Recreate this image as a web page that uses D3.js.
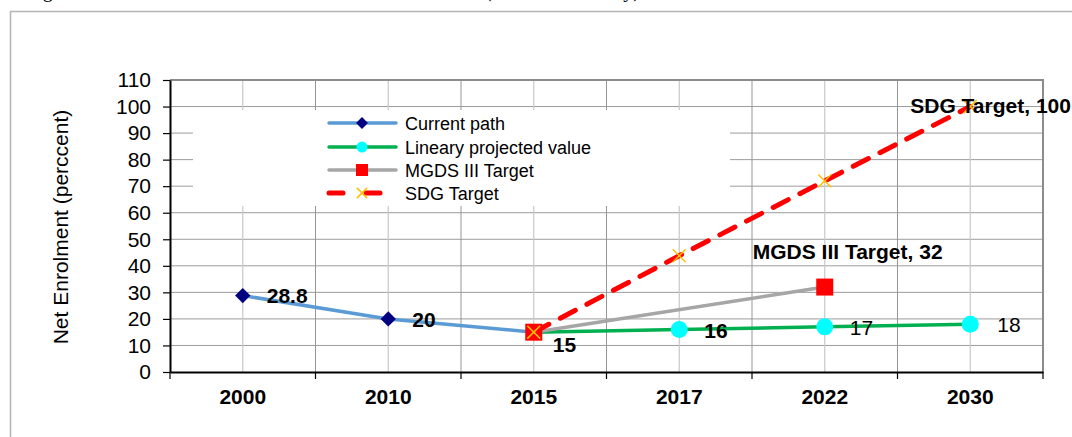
<!DOCTYPE html>
<html>
<head>
<meta charset="utf-8">
<script src="https://cdn.jsdelivr.net/npm/d3@7/dist/d3.min.js"></script>
<style>
  body { margin: 0; background: #fff; }
  svg { display: block; }
</style>
</head>
<body>
<div id="chart"></div>
<script>
// 类别与数据
const years = ['2000', '2010', '2015', '2017', '2022', '2030'];
const yTicks = [0, 10, 20, 30, 40, 50, 60, 70, 80, 90, 100, 110];

const currentPath = [
  { year: '2000', value: 28.8 },
  { year: '2010', value: 20 },
  { year: '2015', value: 15 }
];
const linearProjected = [
  { year: '2015', value: 15 },
  { year: '2017', value: 16 },
  { year: '2022', value: 17 },
  { year: '2030', value: 18 }
];
const mgdsTarget = [
  { year: '2015', value: 15 },
  { year: '2022', value: 32 }
];
const sdgTarget = [
  { year: '2015', value: 15 },
  { year: '2017', value: 43.8 },
  { year: '2022', value: 72 },
  { year: '2030', value: 100 }
];
const legendNames = ['Current path', 'Lineary projected value', 'MGDS III Target', 'SDG Target'];

const width = 1072, height = 437;
const margin = { left: 170, right: 29, top: 80, bottom: 65 };
const font = 'Arial, "Liberation Sans", sans-serif';

let svg = d3.select('#chart').append('svg')
  .attr('width', width)
  .attr('height', height)
  .style('font-family', font);

// 标题 (只露出下半部分)
let title = svg.append('text')
  .attr('y', -3)
  .style('font-family', '"Liberation Serif", "Times New Roman", serif')
  .style('font-size', '20px');
title.append('tspan').attr('x', 26).text('Figure 4: Net Enrolment Rate Trends and Scenarios');
title.append('tspan').attr('x', 485).text('(Lower Secondary)');

// 外框
svg.append('rect')
  .attr('x', 10.5).attr('y', 11.5)
  .attr('width', 1100).attr('height', 500)
  .style('fill', 'none')
  .style('stroke', '#b4b4b4')
  .style('stroke-width', 1.5);

// 比例尺
let x = d3.scaleBand()
  .domain(years)
  .range([margin.left, width - margin.right]);
let y = d3.scaleLinear()
  .domain([0, 110])
  .range([height - margin.bottom, margin.top]);
let cx = function (d) { return x(d.year) + x.bandwidth() / 2 };
let cy = function (d) { return y(d.value) };

let plotL = margin.left, plotR = width - margin.right;
let plotT = margin.top, plotB = height - margin.bottom;

// 网格线
let grid = svg.append('g');
grid.selectAll('line.h')
  .data(yTicks.slice(1, -1))
  .enter()
  .append('line')
  .attr('x1', plotL).attr('x2', plotR)
  .attr('y1', d => y(d)).attr('y2', d => y(d))
  .style('stroke', '#9c9c9c')
  .style('stroke-width', 1);
// 类别中心线 (浅)
grid.selectAll('line.vc')
  .data(years)
  .enter()
  .append('line')
  .attr('x1', d => x(d) + x.bandwidth() / 2).attr('x2', d => x(d) + x.bandwidth() / 2)
  .attr('y1', plotT).attr('y2', plotB)
  .style('stroke', '#c8c8c8')
  .style('stroke-width', 1.2);
// 类别边界线 (深)
grid.selectAll('line.vb')
  .data(years.slice(1))
  .enter()
  .append('line')
  .attr('x1', d => x(d)).attr('x2', d => x(d))
  .attr('y1', plotT).attr('y2', plotB)
  .style('stroke', '#969696')
  .style('stroke-width', 1);

// 图例背景 (挡住网格)
let legendG = svg.append('g').attr('transform', 'translate(193,110)');
legendG.append('rect')
  .attr('width', 537).attr('height', 96)
  .style('fill', '#fff');

// 上、右边框
svg.append('path')
  .attr('d', `M${plotL},${plotT}H${plotR}V${plotB}`)
  .style('fill', 'none')
  .style('stroke', '#8c8c8c')
  .style('stroke-width', 2);

// 坐标轴
let yAxis = svg.append('g')
  .attr('transform', `translate(${plotL},0)`)
  .call(d3.axisLeft(y).tickValues(yTicks).tickSize(7).tickSizeOuter(0));
yAxis.select('.domain').style('stroke', '#000').style('stroke-width', 2);
yAxis.selectAll('.tick line').style('stroke', '#000').style('stroke-width', 1.2);
yAxis.selectAll('.tick text')
  .attr('x', -19)
  .style('font-size', '21px')
  .style('font-family', font)
  .style('fill', '#000');

let xAxis = svg.append('g')
  .attr('transform', `translate(0,${plotB})`)
  .call(d3.axisBottom(x).tickSize(0).tickSizeOuter(0));
xAxis.select('.domain').style('stroke', '#000').style('stroke-width', 2);
xAxis.selectAll('.tick text')
  .attr('y', 17)
  .style('font-size', '21px')
  .style('font-weight', 'bold')
  .style('font-family', font)
  .style('fill', '#000');
// 边界刻度
xAxis.selectAll('line.bt')
  .data(years.concat(['end']))
  .enter()
  .append('line')
  .attr('x1', (d, i) => i < years.length ? x(d) : plotR)
  .attr('x2', (d, i) => i < years.length ? x(d) : plotR)
  .attr('y1', 0).attr('y2', 7)
  .style('stroke', '#000')
  .style('stroke-width', 1.2);

// y轴标题
svg.append('text')
  .attr('transform', 'translate(68,227) rotate(-90)')
  .style('text-anchor', 'middle')
  .style('font-size', '21px')
  .text('Net Enrolment (perccent)');

// 线路径生成器
let line = d3.line().x(cx).y(cy);

let lines = svg.append('g');
lines.append('path').datum(currentPath).attr('d', line)
  .style('fill', 'none').style('stroke', '#5b9bd5').style('stroke-width', 3.5);
lines.append('path').datum(linearProjected).attr('d', line)
  .style('fill', 'none').style('stroke', '#00b050').style('stroke-width', 3.5);
lines.append('path').datum(mgdsTarget).attr('d', line)
  .style('fill', 'none').style('stroke', '#a6a6a6').style('stroke-width', 3.5);
lines.append('path').datum(sdgTarget).attr('d', line)
  .style('fill', 'none').style('stroke', '#ff0000').style('stroke-width', 5)
  .style('stroke-dasharray', '17,13').style('stroke-linecap', 'round');

// 标记
let diamond = d3.symbol().type(d3.symbolDiamond2).size(150);
let marks = svg.append('g');
marks.selectAll('path.cp')
  .data(currentPath)
  .enter()
  .append('path')
  .attr('transform', d => `translate(${cx(d)},${cy(d)})`)
  .attr('d', diamond)
  .style('fill', '#000080');
marks.selectAll('circle.lp')
  .data(linearProjected.slice(1))
  .enter()
  .append('circle')
  .attr('cx', cx).attr('cy', cy).attr('r', 8.5)
  .style('fill', '#00ffff');
marks.selectAll('rect.mg')
  .data(mgdsTarget)
  .enter()
  .append('rect')
  .attr('x', d => cx(d) - 8.5).attr('y', d => cy(d) - 8.5)
  .attr('width', 17).attr('height', 17)
  .style('fill', '#ff0000');
let cross = d3.symbol().type(d3.symbolX).size(110);
marks.selectAll('path.sdg')
  .data(sdgTarget)
  .enter()
  .append('path')
  .attr('transform', d => `translate(${cx(d)},${cy(d)})`)
  .attr('d', cross)
  .style('fill', 'none')
  .style('stroke', '#ffc000')
  .style('stroke-width', 1.5);

// 数据标签
let labels = svg.append('g').style('font-size', '21px');
let addLabel = function (d, text, dx, dy, bold) {
  labels.append('text')
    .attr('x', cx(d) + dx).attr('y', cy(d) + dy)
    .style('font-weight', bold ? 'bold' : 'normal')
    .text(text);
};
addLabel(currentPath[0], '28.8', 24, 7, true);
addLabel(currentPath[1], '20', 24, 8, true);
addLabel(currentPath[2], '15', 19, 20, true);
addLabel(linearProjected[1], '16', 25, 8, true);
addLabel(linearProjected[2], '17', 25, 8, false);
addLabel(linearProjected[3], '18', 27, 8, false);
labels.append('text')
  .attr('x', cx(mgdsTarget[1]) - 72).attr('y', cy(mgdsTarget[1]) - 28)
  .style('font-weight', 'bold')
  .text(legendNames[2] + ', ' + mgdsTarget[1].value);
labels.append('text')
  .attr('x', cx(sdgTarget[3]) - 60).attr('y', cy(sdgTarget[3]) + 6)
  .style('font-weight', 'bold')
  .text('SDG Target, ' + sdgTarget[3].value);

// 图例
let rowY = [13, 37, 60, 83];
legendNames.forEach(function (name, i) {
  let row = legendG.append('g').attr('transform', `translate(0,${rowY[i]})`);
  if (i === 3) {
    row.append('line').attr('x1', 136).attr('x2', 150).attr('y1', 0).attr('y2', 0)
      .style('stroke', '#ff0000').style('stroke-width', 5).style('stroke-linecap', 'round');
    row.append('line').attr('x1', 173).attr('x2', 187).attr('y1', 0).attr('y2', 0)
      .style('stroke', '#ff0000').style('stroke-width', 5).style('stroke-linecap', 'round');
    row.append('path').attr('transform', 'translate(169,0)').attr('d', d3.symbol().type(d3.symbolX).size(70))
      .style('fill', 'none').style('stroke', '#ffc000').style('stroke-width', 1.5);
  } else {
    let color = ['#5b9bd5', '#00b050', '#a6a6a6'][i];
    row.append('line').attr('x1', 136).attr('x2', 203).attr('y1', 0).attr('y2', 0)
      .style('stroke', color).style('stroke-width', 3.5).style('stroke-linecap', 'round');
    if (i === 0) {
      row.append('path').attr('transform', 'translate(169,0)')
        .attr('d', d3.symbol().type(d3.symbolDiamond2).size(90)).style('fill', '#000080');
    } else if (i === 1) {
      row.append('circle').attr('cx', 169).attr('r', 5.5).style('fill', '#00ffff');
    } else {
      row.append('rect').attr('x', 163).attr('y', -6).attr('width', 12).attr('height', 12).style('fill', '#ff0000');
    }
  }
  row.append('text')
    .attr('x', 212).attr('y', 6.5)
    .style('font-size', '18px')
    .text(name);
});
</script>
</body>
</html>
